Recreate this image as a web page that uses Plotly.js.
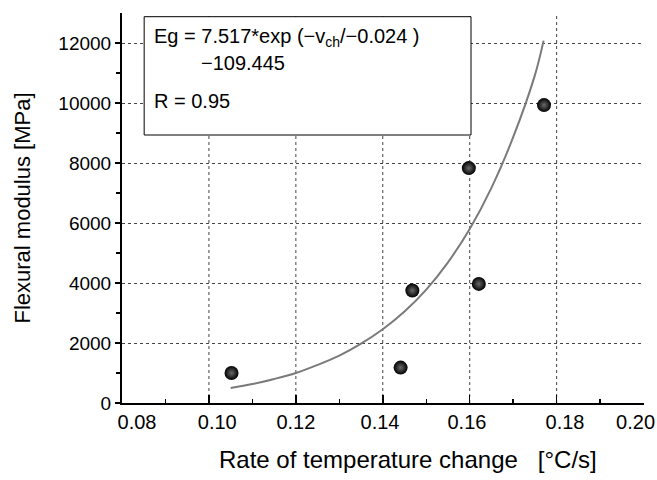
<!DOCTYPE html>
<html><head><meta charset="utf-8">
<script src="https://cdn.plot.ly/plotly-3.0.1.min.js"></script>
<style>html,body{margin:0;padding:0;background:#fff}</style>
</head><body><div id="chart" style="width:657px;height:480px"></div>
<script>
const pointX = [0.1052, 0.1441, 0.1468, 0.1598, 0.1621, 0.1771];
const pointY = [1000, 1180, 3750, 7830, 3970, 9930];
const curveX = [0.105, 0.11, 0.115, 0.12, 0.125, 0.13, 0.135, 0.14, 0.145, 0.15, 0.155, 0.16, 0.165, 0.17, 0.175, 0.177];
const curveY = [500, 630, 800, 1000, 1270, 1580, 1980, 2460, 3050, 3780, 4690, 5800, 7170, 8860, 10930, 12080];
const xTicks = [0.08, 0.10, 0.12, 0.14, 0.16, 0.18, 0.20];
const xTickText = ['0.08', '\u00a0\u00a0\u00a00.10', '0.12', '0.14\u00a0', '0.16\u00a0', '\u00a0\u00a0\u00a00.18', '0.20'];
const xMinor = [0.09, 0.11, 0.13, 0.15, 0.17, 0.19];
const xGrid = [0.10, 0.12, 0.14, 0.16, 0.18];
const yTicks = [0, 2000, 4000, 6000, 8000, 10000, 12000];
const yTickText = ['0', '2000', '4000', '6000', '8000', '10000', '12000'];
const yMinor = [1000, 3000, 5000, 7000, 9000, 11000];
const eqLine1 = 'Eg = 7.517*exp (\u2212v<sub>ch</sub>/\u22120.024 )';
const eqLine2 = '\u2212109.445';
const rText = 'R = 0.95';
const xTitle = 'Rate of temperature change \u00a0\u00a0[\u00b0C/s]';
const yTitle = 'Flexural modulus [MPa]';

const FONT = 'Liberation Sans, Arial, Helvetica, sans-serif';
const X_RANGE = [0.08, 0.2001];

const traces = [
  {x: curveX, y: curveY, xaxis: 'x2', type: 'scatter', mode: 'lines', line: {color: '#7a7a7a', width: 2, shape: 'spline'}, hoverinfo: 'skip'},
  {x: pointX, y: pointY, xaxis: 'x3', type: 'scatter', mode: 'markers',
   marker: {size: 14, color: '#000', gradient: {type: 'radial', color: '#6a6a6a'}, line: {width: 0}}}
];

const shapes = xGrid.map(v => ({type: 'line', xref: 'x', yref: 'paper', x0: v, x1: v, y0: 0, y1: 1,
  layer: 'below', line: {color: '#444', width: 1, dash: '3px,3px'}}));
shapes.push({type: 'rect', xref: 'x', yref: 'y', x0: 0.0851, x1: 0.1603, y0: 8933, y1: 12877,
  layer: 'above', fillcolor: '#fff', line: {color: '#000', width: 1}});

const n = xTicks.length;
const baseX = {
  range: X_RANGE, automargin: false, ticklabeloverflow: 'allow',
  showgrid: false, zeroline: false,
  showline: true, linecolor: '#000', linewidth: 2,
  tickwidth: 1.5, tickcolor: '#000', tickfont: {size: 20, family: FONT}
};

const layout = {
  width: 657, height: 480,
  margin: {l: 122, r: 13, t: 13, b: 77},
  paper_bgcolor: '#fff', plot_bgcolor: 'rgba(0,0,0,0)',
  showlegend: false,
  font: {family: FONT, color: '#000'},
  xaxis: Object.assign({}, baseX, {
    tickvals: xTicks.slice(1, n - 1), ticktext: xTickText.slice(1, n - 1),
    ticks: 'inside', ticklen: 8,
    minor: {tickvals: xMinor, ticks: 'inside', ticklen: 4, tickwidth: 1.5, tickcolor: '#000', showgrid: false}
  }),
  xaxis2: Object.assign({}, baseX, {
    overlaying: 'x', anchor: 'y', side: 'bottom',
    tickvals: xTicks.slice(n - 1), ticktext: xTickText.slice(n - 1),
    ticks: 'inside', ticklen: 8, ticklabelshift: -8
  }),
  xaxis3: Object.assign({}, baseX, {
    overlaying: 'x', anchor: 'y', side: 'bottom',
    tickvals: xTicks.slice(0, 1), ticktext: xTickText.slice(0, 1),
    ticks: '', ticklabelshift: 15
  }),
  yaxis: {
    range: [0, 13000], tickvals: yTicks, ticktext: yTickText, automargin: false,
    ticklabeloverflow: 'allow',
    showgrid: true, gridcolor: '#444', gridwidth: 1, griddash: '3px,3px',
    zeroline: false, showline: true, linecolor: '#000', linewidth: 2,
    ticks: 'outside', ticklen: 5, tickwidth: 1.5, tickcolor: '#000',
    tickfont: {size: 19, family: FONT},
    minor: {tickvals: yMinor, ticks: 'outside', ticklen: 4, tickwidth: 1.5, tickcolor: '#000', showgrid: false},
    title: {text: yTitle, font: {size: 22, family: FONT}, standoff: 22}
  },
  shapes: shapes,
  annotations: [
    {xref: 'x', yref: 'y', x: 0.0869, y: 12167, text: eqLine1, showarrow: false, xanchor: 'left', yanchor: 'middle', font: {size: 20, family: FONT}},
    {xref: 'x', yref: 'y', x: 0.0977, y: 11333, text: eqLine2, showarrow: false, xanchor: 'left', yanchor: 'middle', font: {size: 20, family: FONT}},
    {xref: 'x', yref: 'y', x: 0.0869, y: 10077, text: rText, showarrow: false, xanchor: 'left', yanchor: 'middle', font: {size: 20, family: FONT}},
    {xref: 'paper', yref: 'paper', x: 0.548, y: -0.1436, text: xTitle, showarrow: false, xanchor: 'center', yanchor: 'middle', font: {size: 24, family: FONT}}
  ]
};

Plotly.newPlot('chart', traces, layout, {displayModeBar: false, staticPlot: true});
</script>
</body></html>
